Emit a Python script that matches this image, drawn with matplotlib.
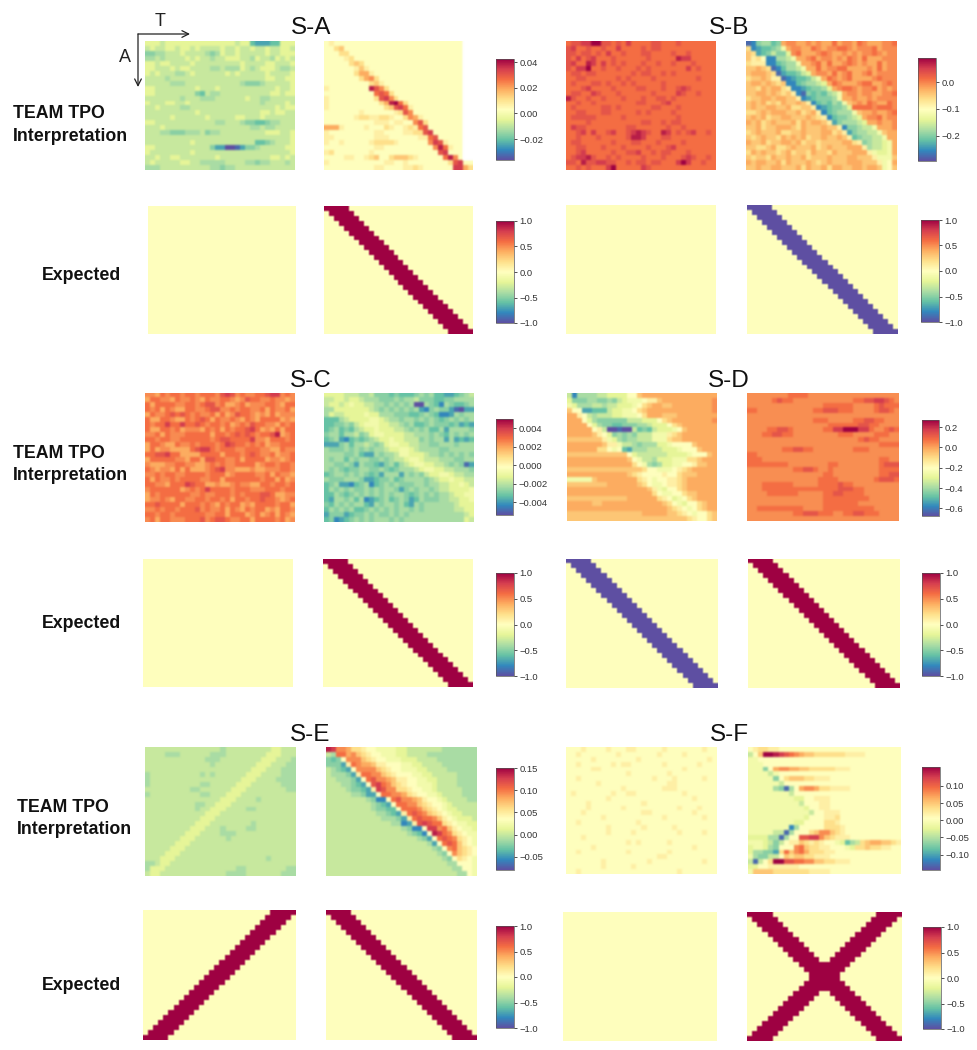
import numpy as np
import matplotlib
matplotlib.use("Agg")
import matplotlib.pyplot as plt
from matplotlib.cm import ScalarMappable
from matplotlib.colors import Normalize
from matplotlib.patches import FancyArrowPatch

plt.rcParams['font.family'] = ['Liberation Sans', 'DejaVu Sans']
W, H = 977, 1050
N_ROWS, N_COLS = 26, 30

# Cell estimates: a = bottom of the panel's colour scale, u = top, "." = blank
SA_L = [
"iiihiiiiiiiiiiiiiihiiedddeeiii",
"hihhiihiihihhhhihhihhihhihhiih",
"ffgghhhihhhhgfgihhihhhhhihhiii",
"gghghhhhihihhghhiiihhgihhgihih",
"iihiihhhhihhhhhhhhhihhhhiihhhi",
"iihhhihiihhhhgghgggihghiiihggh",
"ihihhhgghihhhhhhihihhhhhihhhhi",
"hhhhghhhhhhhhhhhhhhhhhhhiihhii",
"hhhhhggghhhhhhhhhhhgfffghhhhhi",
"iihhhhhhhhihhhihhhhhhhhhhhihhi",
"iihhhhhhhhfehgghhhhhhhhhhiihii",
"hhhhhhhghhhggghhhhhhihhgghhhhh",
"ihhhiihhihhhhhhhhhhhhhhghhhhih",
"hhihhhhgghhhhhhhhhhhhhhhhhihii",
"hhhhhhhhhhihhhhhhhhhhhhiihiihh",
"hhhhhihhhhhhihhhhhiihhhihhhhhh",
"iihhhhhhhhhhhhgghhhgffeefgghhh",
"hhhihhhhhhhhhhhhhhhhhgghgghhhh",
"hhhggfffggghfgghhhhhhhhhiiihhi",
"hhhhhhhhhhhhhhhhhhhhhhhhhhhhhi",
"hhhhhhhhhihhhhhhhhhhhheefghhhi",
"iihhhhhhhhhhhfddaabdffghhhhhii",
"ihhhhhhhhihhhhhhhhhhhhhhhhhhhi",
"hhihhiihhhhhhhihhhhhhhhhhiihih",
"hihhhhhiihhggggghhhhggfgghhhgh",
"ggghhhhhhhhhhggfgghhhhhhhhhhhh",
]
SA_R = [
"klkkkkkkkkkkkkkkkkkkkkkkkkkk..",
"kkmnkkkkkkkkkkkkkkkkkkkkkkkk..",
"kkkmmkkkkkkkkkkkkkkkkkkkkkkk..",
"kkkklmkkkkkkkkkkkkkkkkkkkkkk..",
"kkkkkmnmkkkkkkkkkkkkkkkkkkkk..",
"kkkkkklnlkkkkkkkkkkkkkkkkkkk..",
"kkkkkkmoolkkkkkkkkkkkkkkkkkk..",
"kkkkkkkmopmkkkkkkkkkkkkkkkkk..",
"kkkkkkkkkmnlkkkkkkkkkkkkkkkk..",
"lkkkkkkkktrpmkkkkkkkkkkkkkkk..",
"kkkkkkkkkkqrqmkkkkkkkkkkkkkk..",
"lkkkkkkkkkmrspmkkkkkkkkkkkkk..",
"lkkkkkkkkkkmotuqmkkkkkkkkkkk..",
"lkkkkkkkkkkkmnrsqlkkkkkkkkkk..",
"kkkkkkklkkkkkklmrpkkkkkkkkkk..",
"kkkkkklmmllmmlkkmpolkkkkkkkk..",
"kkkkkkkkkklllkllkkprmkkkkkkk..",
"ooolkkkklkkkmlkklmlqrkkkkkkk..",
"lkkkkkkkkkllkkkkllmmrskkkkkk..",
"llkkkkkkkklllkkkkkkllqrkkkkk..",
"lkklkkkkklmmmmlkkkkkkpsrlkkk..",
"kkkkkkkkkkllkkkkkkkkkkptqlkk..",
"lmkkkkkkklkkkkkkkkkkkkkrskkk..",
"kkkkllkklmnkkmnnnmlkkkkkqtpk..",
"lkkkkkkkkkkkllkklkkkkkkkkmrskk",
"kkkkkkkkkkllkkkkllmlkkkkkkssom",
]
SB_L = [
"qrrssuurrqrqsqqqqrrqqqrqqqqqqq",
"rsqqrqqrqqsqqqqrqrrqqqqqqqqqqq",
"rrqrrqrqsqqrqqqrrqqqqrqqrqqqqq",
"rqsqrsqqqrqqqqqqrqqqqqtssqqqqq",
"rsqqtsqsqrqrqqqrqqrqqrqqqrqqqq",
"rqssuqqrqqrqqqrqrqqqqqqqsqrqqq",
"qrrqrrqqqqqqqrqrrqqrqrqqqqqqqq",
"qqrrqqqqqqrqrqqqqrqqqqqqqqrqqq",
"qrqqqrrqrqqrqrqqqqqrqqqqqqqqqq",
"qqqrsqqqqrqqqqrrqqqrqqrsrqqqqq",
"qrrqqsrqqqrqqqqqqrqqqqsrqqrqqq",
"trqqrqqrqqqrqqqrqqrrqrqqqqqqqq",
"qqrqqrqqqqqqqqrrqqqrsqqqqqqqqq",
"qrqqqqqrrqrqqqqqqrrqqqrqqqqqqq",
"qqrrqqqrrqqqqqrqrqqqqrqqqqqqqq",
"qrrrrrqqqqqrqqqqqqqqqqrqqqqqqq",
"qqqqrqqqqqqqqqqrrqqrqrrqqqqqqq",
"qsrrqqqqqqqqrrqqqqqqrqqrqqqqqq",
"qqrsqsqqrsqqrstsrqqtsqrqrsqqrq",
"qqrqqqrqqqqqrttsqqqrrqqqqqqqqq",
"qrrqqqqqqrqqqrrqqqrqqqqrqqqqqq",
"qqrrqqqrqqqrqqqqrqqqrsqqqqqqqq",
"qqrsqqqqqrqqrrsqqrqrrqqqrqqqqq",
"qrsstrqqrqrqqqqrqqqrqqqrsrqqrq",
"rrqtrrssrrqqrqrrqrrqqqsusqqrqq",
"qqrqrqqqsuqqqqqsrqqqqqqqqqqqqq",
]
SB_R = [
"bcfggefoppoopopooqoppoqpoooppq",
"mcdeefgjoppooqpoppqqpopppqoppp",
"nmdefhffipqooopqpoopopoppqpopp",
"nlmkccgghjoopqoppopoqpoqoooppp",
"mlllccefggjoopqoqoopqpopooqopp",
"nnonmbcegghjooqoppqqoooopoqopp",
"nooonmbdeefhioppoqopqoopqopppp",
"mnnonllbcdeefhjoqpopqoooopqppp",
"noononmnccefgghioqpooopqqoopqp",
"nnmonoomlccdeffgiopqqpoppqopop",
"nnoononmnlcbfefeghjoppoppooppq",
"mnnoonoonnlcdefffgjoopoopopppp",
"nonomnmonnonlcefegfjnopoqpooqp",
"nonnoonnommnnlcdeffgiqqqqpqqqp",
"mmnonooonnomnolcefgggjnoopoopq",
"nonomnnoonnnonmlceffghioppqopp",
"onomnonnnomonoonldfggghioopoop",
"nnomnnooonmonnnonnlcffghhjooop",
"mnonnnommnnonnnoomnldfgghhjnoo",
"nmnonnmononomnnonnonlefgghhjoo",
"onnomnnoonomnnmnnnnoomlfghhijo",
"nnmmnommnonnnomnonnnooolghhijo",
"mononnmnomnnmonnmonnnoooljiijo",
"nmnnmonnonnomnnnonnnoonnnljjjn",
"onoonnomonnnonmnonnnooonnnljko",
"nnonnoonnnomonnomoonnoonoonjkn",
]
SC_L = [
"ppoqpqqpqqpqqqprsrpqppqqrsspqp",
"oqqppoqppqpoqppqqpoprqqppqppop",
"qoqqqqppqqpqrrpqoopqopppqqpoqq",
"qpqoqpooqqppqrrppqpqqppqoqppqo",
"oqppqrqrqpqppqoqoprqqpopoqoppp",
"qooqqpooqpqrqoqppqpoqpoqqqqopo",
"qpqqsqqsqqrqpqqpqopqprqqppoqpq",
"qooqqpqopppoqpqoqpqqrsqopoqoqq",
"ppqoqpppqqqqqoqqpqrqrqpqqrtopq",
"qqpqqppqqqqqqpqrrqqqqsppoqqqpq",
"oqqpooqppqpqqqpqsrqqpqpqoppqqq",
"oqoppooooqrssqpqqqppqqqppooqpp",
"qqrrsqqooooqqqqoqqqpqrqppqoppq",
"oqqqqqppoqqorrqqppqoqqqqoppopq",
"poooppqqppoopqpqppqqqqopqqpqqp",
"qpoppoqoqooopqrsppooopoopppqqp",
"ppqpqqppqqqqpqqqopqqqqppqoqppo",
"qoqppqpqqqqppqqoqqqqqqqpqqoqop",
"qqppoqqqsrqqoopoopqppooqqpqqpq",
"pqqqqqqopqpqsqqqqpqqqpppqqqpqq",
"oqpqqqqqqppqppqqqpqpqqqrrqoopp",
"oppqpoqqppqqpqqpqoqqpqqrqqpopq",
"qqrqqqqoqqqpqpoqpqqopoqqqqpqqo",
"ppqpqqpqqqrpqppqoqpoqpqqopoqqp",
"qqpqqpqqqqqqppqqoqqqopqopqoqpo",
"pqoqqpppqqqrpqrrqppqqoqqqqpqop",
]
SC_R = [
"iiiihhhgghfffefeeefgfgeeddefgh",
"hhiihiihgggfffgfgghfffeeffgggg",
"hiihijiihhggfgfgfgaagfecgfeefg",
"ggiiiiiiihgfgfgfgfgdcfgffdbadd",
"gihhiiiijiigggfffeefgfeccdgfgg",
"eeeghiiiijjihggfggfgfgfefgfgfg",
"eeffgfhijjjiihhgfgeefgfffefded",
"efgefeghiijiiihhgfgfgeegdggggf",
"fggegghfgijjiiiihhgggfgfegfgfg",
"efgdcefefghiijiihhhfgfggdgdede",
"dddfgegghgfgijjiihhggffgggfggg",
"gfffgfgfgfgghiijjihggggffggggg",
"ggggffgeddgfgghjjiiihggfgfgfgf",
"gfggegfggffgfghhijjihhhgggffgg",
"ggffgfdgffedfgeghijjiihhgfgfbd",
"gfgfeffggffgfefggghijjiihhgggf",
"efggfgfgfefdgggdgfgfhiijjihhgg",
"gfffgggfddeffgefggggfghiijiihh",
"efgddcefgcefgfgfffggfgghhiijih",
"egfgfgffgfgfggfdfgfggfghhiiiij",
"eegfefgfgfgfgfggfefgfgfgghiijj",
"edggfgegcdefgefgfdegfffgghhiij",
"fegfgfggedgfggfgedgfgggggghiii",
"egfgfgeefgfgfgfggfgfgggggghhii",
"dfffdeffgfgffgfgfggggggggggghi",
"efcdefgfgfgggfgfggggggggggggih",
]
SD_L = [
"hcgggghhiiiikknooooooooooooooo",
"ifffggffgfhijjjkllnoooooooooop",
"jiggghhghhiiijkmnoonnoooooooop",
"nkkddeeehiijjkmnooooooooooooop",
"oolkhghhhiijjjkmooonnnoooooooo",
"oookigffffffhhhiiikmnoooooooop",
"ooookigffeefffgghiiikmnooooooo",
"oooooklhaabaahefehiiijknoooooo",
"ooooonlkifgfgfhhhjjjlmnooooooo",
"nnnnnnnljigfgghhhjjjmnnooooooo",
"ooooooonlljhhgfgggiijkkkknoooo",
"oooooommkjkedggghhhiiijkkknooo",
"nnnnnnnnnnnnkihhhhhhiiiijkkkno",
"oooooooooooonkjhhgiiijjjmmnooo",
"ooooooooooooomkjgfgiijjkklnnoo",
"nnnnnnnnnnnnnnnmkkjjjklmnooooo",
"oooooooooooonmlkkkklkkmnnnoooo",
"jjjjjnoooooooomlkjkkllmnoooooo",
"nnnnnnnnoooooonmkjjkllmnoooooo",
"oooooooooooooooonljikkmnoooooo",
"ooooooooooooooooomkjjkkmnnoooo",
"nnnnnnnnnnnnoooooomlkijkmnoooo",
"ooooonnoooooooooooonmkjikkmnoo",
"oooooooooooooooooooonmlkjkmnoo",
"nnnnnnnnnnnnnnnooooonnmlkjkkmn",
"nnnnnnnnnnnnnnnnnnnnnnnnmlkkmn",
]
SD_R = [
"ppppppppqqqqpppppppppppppppppp",
"pppppqrqqppppppppppppqqrrssrqp",
"pppppppppppppppqqqqqqppppqrqqq",
"qqpppppppppppqqrrrqqqppppqrrqp",
"pppppppppppppppppppppppppppppp",
"pppppppppppppqqqpppppqqrrqqppp",
"ppppppppppppppppqqqqqqrrqqpppp",
"ppppqqrrqppppppqqssuuussqppqrq",
"pppqqrrqqpppppppppqqqppppqqqpp",
"ppppppppppppppppppppppqrqqpppp",
"ppppppppppppppppppppppppppqqqq",
"pppppppqqrrqqppppppppqqqpppppp",
"qqpppppppppppppppppppppppppppp",
"qqqpppppppppppppppppppppppqqpp",
"qqqqqqqqppppppppqqppppppppqrrr",
"pppppppppqqrrqppqpppppppppqqqq",
"pppppppppppppppqqpppppppppqqrr",
"ppppppppppppppqqqqpppppppqrrrq",
"pppqqqqqqpppppqqqqrqqppppppppp",
"pppqqqqqqqqqqqqqqqrrrqqppppppp",
"ppppqqqqqqpppppqqrrqqqqppppppp",
"pppppppppppppppqqqqqqqqqpppppp",
"pppppppppppppppqqqqqqqpppppppp",
"ppqqqqqqqqqppppqqqqqqqqqqppppp",
"pppppppppqqrrrqqqppqqrrqqqpppp",
"pppppppppppppppppppppppppppppp",
]
SE_L = [
"hhhhhhhhhhhhhhhghhhhhhhhhiihhh",
"hhhhggghhhhhhggghhhhhhhhiiihhh",
"hhhhhhhhhhhhggghhhhhhhhiiihhhg",
"hhhhhhhhhhhhhghhhhhhhhiiihhhgg",
"hhhhhhhhhhhhhhhhhhhhhiiihhhggg",
"ghhhhhhhhhhghghhhhhhiiihhhhggg",
"ghhhhhhhhhhhhhhhhhhiiihhhhgggg",
"ghhhhhhhhhhgghhhhhiiihhhhhhggg",
"hhhhhhhhhgghhhhhhiiihhhhhhhhgg",
"ghhhhhhhhhhgghhhiiihhhhhhhhhhh",
"hhhhhhhhhhhhhhhiiihhhhghhhhhhh",
"hhhhhhhhhhgghhiiihhhhhhhhhhhhh",
"hhhhhhhhhhghhiiihhhhgghhhhhhhh",
"hhhhhhhhhhhhiiihhhhhhhhhhhhhhh",
"hhhhhhhhhhhiiihhhhhhhhhhhhhhhh",
"hhhhhhhhhhiiihhhhhhhhghhhhhhhh",
"hhhhhhhhhiiihhhghhhhgghhhhhhhh",
"hhhhhhhhiiihhhhggghhhhhhhhhhhh",
"hhhhhhhiiihhhhhhghhhhhhhhhhhhh",
"hhhhhhiiihhhhhhhhhhhhhhhhhhhhh",
"hhhhhiiihhhhhhhhhhhhhhhhhhhhhh",
"hhhhiiihhhhhhhhhhhhhhhhhhhhhhh",
"hhhiiihhhhhhhhhhhhhhhhhhghhhhh",
"gghiihhhhhhhhhhhhhhhhhhhhhhhhh",
"giiihhhhhhhhhhhhhhgghhhhhhhhgg",
"hiihhhhhhhhhhhhhgggghhhhhhhggg",
]
SE_R = [
"tsppommlkkjjjjiihhhhhhhggggggg",
"hgqqopnmlkkjjjiihhhhgggggggggg",
"fefkpppnmlkkjjjiiihhhhgggggggg",
"fffdlqpoonllkkkjjiihhhhggggggg",
"hgfedkppppnmlkkjjjiihhhhgggggg",
"hgggfdlqqppnmlkkkjjiihhhhhgggg",
"hhgggfdkqrpponllkkjjiihhhhgggg",
"hhhggfedkrsqpnmlkkjjjihhhhgggg",
"hhhhgffedlsrppmmlkkjjihhhhhggg",
"hhhhhggfddkqqppomlkkjjihhhhggg",
"hhhhhhhhgfcckqrpponlkkjihhhhgg",
"hhhhhhhhhgfedkqqppnmlkkjihhhhh",
"hhhhhhhhhgffeekqqqpnmlkjiihhhh",
"hhhhhhhhhhggfedlqrqpnmlkjiihhh",
"hhhhhhhhhhhgggfdlqrqqpnlkjiiih",
"hhhhhhhhhhhhhggcdlrsrqqmlkjjii",
"hhhhhhhhhhhhhhhgfccksspqnlkjji",
"hhhhhhhhhhhhhhhhgfecktsqpmlkjj",
"hhhhhhhhhhhhhhhhhhgfdkqrqpmlkj",
"hhhhhhhhhhhhhhhhhhhhgdkqrqnlkj",
"hhhhhhhhhhhhhhhhhhhhhgfkpqnmlk",
"hhhhhhhhhhhhhhhhhhhhhhgfkpnmlk",
"hhhhhhhhhhhhhhhhhhhhhhhgfkmlkj",
"hhhhhhhhhhhhhhhhhhhhhhhhggkkkj",
"hhhhhhhhhhhhhhhhhhhhhhhhhggkkj",
"hhhhhhhhhhhhhhhhhhhhhhhhhhggkj",
]
SF_L = [
"kkklkkkklkkkllkkkkklkkkkkkklkk",
"kklkkkkkkklkkkkkkklkkkklkkkkkk",
"kkkkklkkkkkkkklkkkkkkkkkkkkklk",
"kklkkkkkklkllkkkkkklkkkkkklkkk",
"kkkkkllkkkkkkkkkkkkkkkklkkkkkk",
"kkkkkkkkkkkklkkkkkkklkkkkkkkkk",
"kklkkkkkkkkkkkkkklkkklkkkkklkk",
"kkkkkklkkkkkkkkkkkkkllkkkkkkkk",
"kkkkkkkkkkklkkkkkkklllkkkkkkkk",
"klkkkkkkklkkllkkkkkkkkklkkkkkk",
"kkkkkkkklkkkkkkkkkkkkkkkklkkkk",
"kkkklkkkkkkkkkklkkkkkkkkkkkkkk",
"kkkklkkkkkklkkkkkkkkkklkkklkkk",
"kkklkkkkkkkkkkkllkkkkkkkklkkkk",
"kkkkkkklkkkkkkkkkkklkkkkkkklkk",
"kklkkkkkkkkkkklkkkkkkkkkkkkkkk",
"kkkkkkkklkkkkkklkkkkklkkkkkkkk",
"kkkkkkkklkkkklkkkkkkkklkkkklkk",
"kkklkkkkkkkkkkkkkkkkkkkkkkkkkk",
"kkkkkkkkkkkklklkkkkklkkkkkkkkk",
"kkkkklkkkkkkkkkkkkkkkkkkklkkkk",
"kklkkkkkkkkklkkkkkkklkkkkkkkkk",
"kkkkkkkkkkkkkkkkkkllkkkkkkkkkk",
"kkkkkkklkkkkkkkklkkkkkkkkkklkk",
"kkkkkkklkkkkklkkkkkkkkkkkkkkkk",
"kklkkkkkkkkkkkkkkkkkkklkkkkkkk",
]
SF_R = [
"klmmllkkkkkkkkkkkkkkkkkkkkkkkk",
"hknuutsrqponnmmmmmmllllkkkkkkk",
"jjkkkkkkkkkkkkkkkkkkkkkkkkkkkk",
"jjjkkkkkkkkkkkkkkkkkkkkkkkkkkk",
"jjjfkoppoonnmmmmmlllkkkkkkkkkk",
"jjjjhjkkkkkkkkkkkkkkkkkkkkkkkk",
"jjjjjfkmnnnmmlllkkkkkkkkkkkkkk",
"jjjjjjhkkkkkkkkkkkkkkkkkkkkkkk",
"jjjjjgfbgkoppommllllkkkkkkkkkk",
"jjjjjjjjhkkkkkkkkkkkkkkkkkkkkk",
"jjjjjjjjjiikklllkkkkkkkkkkkkkk",
"jjjjjjjjjjhkkkllkkkkkkkkkkkkkk",
"jjjjjjjjjjjikkllkkkkkkkkkkkkkk",
"jjjjjjjjjjjjhkklllkkkkkkkkkkkk",
"jjjjjjjjjjjikkkllmkkkkkkkkkkkk",
"jjjjjjjjjiikkkkmmlkkkkkkkkkkkk",
"jjjjjjjjcgkkkkkmmmlkkkkkkkkkkk",
"jjjjjhhbgkkkmnppnmlkkkkkkkkkkk",
"iiiiggbgkkrrsspnmlllkkkkkkkkkk",
"jjjihfhkllnmlmlkkjieghmnoonnml",
"ijjigfkkkpqnmmllkkkjimmnmmllkk",
"iggffdmqnpqommmllkkkkkkkkkkkkk",
"jgffhhknmnnmmlllkkkkkkkkkkkkkk",
"hbhkmuurrqqppnnmmlllkkkkkkkkkk",
"iikkllllllkkkkkkkkkkkkkkkkkkkk",
"jnnnnmmmmmmmllllkkkkkkkkkkkkkk",
]

# Rows' first column of the diagonal bands in the "Expected" panels
DOWN_BAND_START = [0, 1, 2, 3, 4, 5, 6, 7, 8, 9, 10, 11, 12, 13, 14, 15, 16, 17, 18, 19, 20, 21, 22, 23, 24, 25]
UP_BAND_START = [25, 24, 23, 22, 21, 20, 19, 18, 17, 16, 15, 14, 13, 12, 11, 10, 9, 8, 7, 6, 5, 4, 3, 2, 1, 0]
BAND_CELLS = 5

TITLES = ["S-A", "S-B", "S-C", "S-D", "S-E", "S-F"]
TPO_RANGES = [(-0.0364, 0.0426), (-0.294, 0.09), (-0.00537, 0.005), (-0.675, 0.27), (-0.08, 0.15), (-0.145, 0.155)]
TPO_TICKS = [[-0.02, 0.0, 0.02, 0.04], [-0.2, -0.1, 0.0], [-0.004, -0.002, 0.0, 0.002, 0.004],
             [-0.6, -0.4, -0.2, 0.0, 0.2], [-0.05, 0.0, 0.05, 0.10, 0.15], [-0.10, -0.05, 0.0, 0.05, 0.10]]
TPO_FORMATS = ["%.2f", "%.1f", "%.3f", "%.1f", "%.2f", "%.2f"]
EXPECTED_TICKS = [-1.0, -0.5, 0.0, 0.5, 1.0]
EXPECTED_LEFT = [None, None, None, [(DOWN_BAND_START, -1)], [(UP_BAND_START, 1)], None]
EXPECTED_RIGHT = [[(DOWN_BAND_START, 1)], [(DOWN_BAND_START, -1)], [(DOWN_BAND_START, 1)],
                  [(DOWN_BAND_START, 1)], [(DOWN_BAND_START, 1)],
                  [(DOWN_BAND_START, 1), (UP_BAND_START, 1)]]
TPO_PANELS = [(SA_L, SA_R), (SB_L, SB_R), (SC_L, SC_R), (SD_L, SD_R), (SE_L, SE_R), (SF_L, SF_R)]

# Layout, in reference pixels: x0, x1, y0, y1
TPO_L_BOX = [(145, 295, 41, 170), (566, 716, 41, 170), (145, 295, 393, 522), (567, 717, 393, 521), (145, 296, 747, 876), (566, 717, 747, 874)]
TPO_R_BOX = [(324, 473, 41, 170), (746, 897, 41, 170), (324, 474, 393, 522), (747, 899, 393, 521), (326, 477, 747, 876), (748, 901, 747, 874)]
TPO_CB_BOX = [(496, 514, 59, 160), (918, 936, 58, 161), (496, 513, 419, 515), (922, 939, 420, 516), (496, 514, 768, 870), (922, 940, 767, 870)]
EXP_L_BOX = [(148, 296, 206, 334), (566, 716, 205, 334), (143, 293, 559, 687), (566, 718, 559, 688), (143, 296, 910, 1040), (563, 717, 912, 1041)]
EXP_R_BOX = [(324, 473, 206, 334), (747, 898, 205, 334), (323, 473, 559, 687), (748, 900, 559, 688), (326, 477, 910, 1040), (747, 902, 912, 1041)]
EXP_CB_BOX = [(496, 514, 221, 323), (921, 939, 220, 322), (496, 514, 573, 676), (922, 940, 573, 676), (496, 514, 926, 1028), (923, 941, 927, 1029)]
TITLE_POS = [(311, 28), (729, 28), (311, 381), (729, 381), (310, 735), (729, 735)]
TEAM_POS = [(13, 114, 137), (13, 453, 476), (17, 808, 830)]
EXPECTED_POS = [(42, 276), (42, 623), (42, 985)]

fig = plt.figure(figsize=(W / 100, H / 100), dpi=100, facecolor="white")
cmap = plt.get_cmap("Spectral_r").copy()


def add_box(box):
    x0, x1, y0, y1 = box
    return fig.add_axes([x0 / W, 1 - y1 / H, (x1 - x0) / W, (y1 - y0) / H])


def decode(rows, lo, hi):
    out = np.full((N_ROWS, N_COLS), np.nan)
    for r, row in enumerate(rows):
        row = row[:N_COLS].ljust(N_COLS, row[-1])
        for c, ch in enumerate(row):
            if ch != ".":
                out[r, c] = lo + (ord(ch) - 97) / 20 * (hi - lo)
    return out


def expected(bands):
    out = np.zeros((N_ROWS, N_COLS))
    for starts, val in bands or []:
        for r, s in enumerate(starts):
            out[r, s:s + BAND_CELLS] = val
    return out


def soft_filter(passes):
    """Slight pixel blur: the reference is a soft, resampled raster."""
    def apply(img, dpi):
        pad = passes + 1
        out = np.pad(img, ((pad, pad), (pad, pad), (0, 0)), mode="edge")
        for _ in range(passes):
            out = 0.25 * np.roll(out, 1, 0) + 0.5 * out + 0.25 * np.roll(out, -1, 0)
            out = 0.25 * np.roll(out, 1, 1) + 0.5 * out + 0.25 * np.roll(out, -1, 1)
        return out[pad:-pad, pad:-pad], 0, 0
    return apply


def heat(box, data, lo, hi, passes):
    ax = add_box(box)
    im = ax.imshow(data, cmap=cmap, vmin=lo, vmax=hi, aspect="auto", interpolation="nearest")
    im.set_agg_filter(soft_filter(passes))
    ax.axis("off")


def cbar(box, lo, hi, ticks, fmt):
    cax = add_box(box)
    cb = fig.colorbar(ScalarMappable(Normalize(lo, hi), cmap), cax=cax)
    cb.set_ticks(ticks)
    cb.set_ticklabels([(fmt % t).replace("-", "\u2212") for t in ticks])
    cb.ax.tick_params(labelsize=6.8, length=2, width=0.6, pad=2, labelcolor="#333333", color="#333333")
    cb.outline.set_linewidth(0.5)
    cb.outline.set_edgecolor("#555555")


for i, title in enumerate(TITLES):
    lo, hi = TPO_RANGES[i]
    heat(TPO_L_BOX[i], decode(TPO_PANELS[i][0], lo, hi), lo, hi, 2)
    heat(TPO_R_BOX[i], decode(TPO_PANELS[i][1], lo, hi), lo, hi, 2)
    cbar(TPO_CB_BOX[i], lo, hi, TPO_TICKS[i], TPO_FORMATS[i])
    heat(EXP_L_BOX[i], expected(EXPECTED_LEFT[i]), -1, 1, 1)
    heat(EXP_R_BOX[i], expected(EXPECTED_RIGHT[i]), -1, 1, 1)
    cbar(EXP_CB_BOX[i], -1, 1, EXPECTED_TICKS, "%.1f")
    x, y = TITLE_POS[i]
    fig.text(x / W, 1 - y / H, title, fontsize=17.5, ha="center", va="center", color="#111111")

for x, y1, y2 in TEAM_POS:
    fig.text(x / W, 1 - y1 / H, "TEAM TPO", fontsize=12.8, fontweight="bold", ha="left", va="center", color="#111111")
    fig.text(x / W, 1 - y2 / H, "Interpretation", fontsize=12.8, fontweight="bold", ha="left", va="center", color="#111111")
for x, y in EXPECTED_POS:
    fig.text(x / W, 1 - y / H, "Expected", fontsize=12.8, fontweight="bold", ha="left", va="center", color="#111111")

fig.text(160 / W, 1 - 22 / H, "T", fontsize=13, ha="center", va="center", color="#222222")
fig.text(125 / W, 1 - 58 / H, "A", fontsize=13, ha="center", va="center", color="#222222")
arrow = dict(arrowstyle="->", lw=0.9, color="#222222", shrinkA=0, shrinkB=0, mutation_scale=12)
fig.add_artist(FancyArrowPatch((138 / W, 1 - 34 / H), (190 / W, 1 - 34 / H), transform=fig.transFigure, **arrow))
fig.add_artist(FancyArrowPatch((138 / W, 1 - 34 / H), (138 / W, 1 - 87 / H), transform=fig.transFigure, **arrow))

fig.savefig("out.png", dpi=100, facecolor="white")
